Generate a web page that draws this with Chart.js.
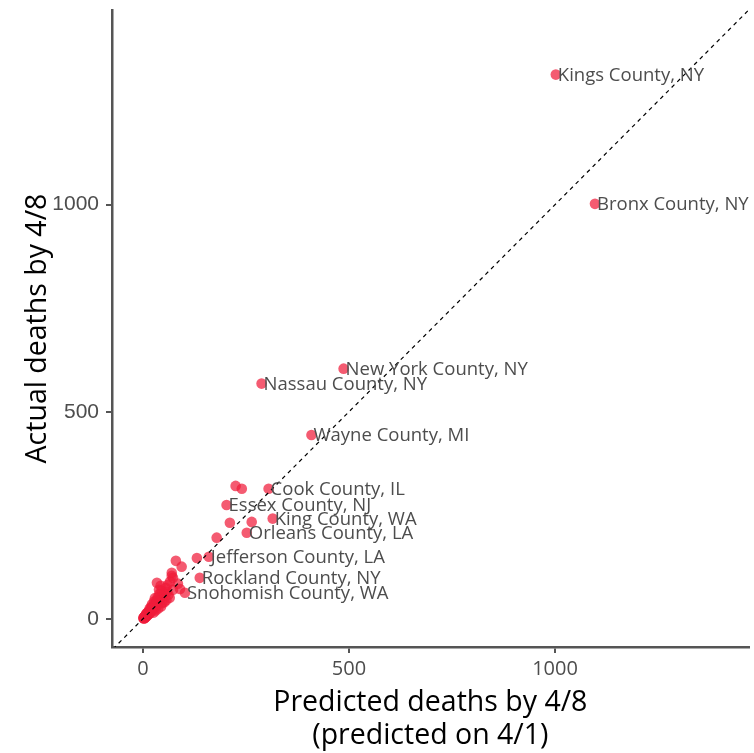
<!DOCTYPE html>
<html>
<head>
<meta charset="utf-8">
<script src="https://cdn.jsdelivr.net/npm/chart.js@4.4.0/dist/chart.umd.min.js"></script>
<style>
  body { margin: 0; background: #fff; }
  #wrap { width: 754px; height: 753px; }
</style>
</head>
<body>
<div id="wrap"><canvas id="myChart"></canvas></div>
<script>
// labelled counties
const counties = [
  "Kings County, NY", "Bronx County, NY", "New York County, NY", "Nassau County, NY",
  "Wayne County, MI", "Cook County, IL", "Essex County, NJ", "King County, WA",
  "Orleans County, LA", "Jefferson County, LA", "Rockland County, NY", "Snohomish County, WA",
];
const predLab = [1002, 1097, 487, 288, 409, 305, 203, 315, 252, 160, 138, 102];
const actLab  = [1314, 1002, 604, 568, 444, 314, 275, 242, 208, 150, 99, 63];

// the rest (unlabelled)
const predOther = [225, 240, 264, 211, 179, 131, 80, 94, 73, 34, 70, 70, 73, 65, 55, 50, 48, 45, 42, 40,
  38, 36, 35, 33, 30, 28, 27, 25, 24, 22, 20, 19, 18, 17, 16, 15, 14, 13, 12, 11,
  10, 9, 8, 8, 7, 6, 6, 5, 5, 4, 4, 3, 3, 2, 2, 1, 60, 52, 58, 62,
  47, 44, 37, 31, 26, 23, 21, 29, 39, 43, 57, 66, 85, 90];
const actOther  = [321, 314, 234, 232, 196, 147, 140, 126, 99, 87, 111, 104, 70, 51, 75, 62, 55, 68, 48, 60,
  40, 52, 33, 45, 38, 28, 42, 30, 22, 35, 18, 28, 20, 14, 24, 12, 18, 10, 16, 9,
  14, 7, 12, 5, 9, 4, 8, 6, 3, 5, 2, 4, 1, 3, 1, 2, 82, 40, 65, 58,
  38, 30, 25, 20, 15, 30, 25, 50, 70, 80, 45, 90, 85, 72];

const tickVals = [0, 500, 1000];
const diag = [-100, 1500];

const pointColor = "rgba(240, 28, 58, 0.72)";
const axisColor = "#555555";
const textColor = "#4d4d4d";

const labelPlugin = {
  id: "countyLabels",
  afterDatasetsDraw(chart) {
    const meta = chart.getDatasetMeta(1);
    const c = chart.ctx;
    c.save();
    c.font = "18.5px 'Open Sans'";
    c.fillStyle = textColor;
    c.textAlign = "left";
    c.textBaseline = "middle";
    meta.data.forEach(function (el, i) {
      c.fillText(counties[i], el.x + 2, el.y + 1);
    });
    c.restore();
  },
};

const data = {
  datasets: [
    {
      type: "line",
      data: diag.map(v => ({x: v, y: v})),
      borderColor: "#000",
      borderWidth: 1.2,
      borderDash: [4, 4],
      pointRadius: 0,
      order: 0,
    },
    {
      type: "scatter",
      data: predLab.map((v, i) => ({x: v, y: actLab[i]})),
      backgroundColor: pointColor,
      borderWidth: 0,
      pointRadius: 5.3,
      order: 2,
    },
    {
      type: "scatter",
      data: predOther.map((v, i) => ({x: v, y: actOther[i]})),
      backgroundColor: pointColor,
      borderWidth: 0,
      pointRadius: 5.3,
      order: 3,
    },
  ],
};

const config = {
  type: "scatter",
  data: data,
  plugins: [labelPlugin],
  options: {
    responsive: true,
    maintainAspectRatio: false,
    animation: false,
    layout: { padding: { top: 10, right: 4, left: 0, bottom: 0 } },
    plugins: { legend: { display: false }, tooltip: { enabled: false } },
    scales: {
      x: {
        type: "linear",
        min: -75,
        max: 1470,
        afterBuildTicks: (s) => { s.ticks = tickVals.map(v => ({value: v})); },
        afterFit: (s) => { s.height = 106; s.paddingLeft = 0; s.paddingRight = 0; },
        ticks: { font: { family: "Open Sans", size: 20 }, color: textColor, padding: 4, callback: (v) => String(v) },
        grid: { drawOnChartArea: false, drawTicks: true, tickLength: 6, color: axisColor, lineWidth: 2 },
        border: { display: true, color: axisColor, width: 2.5 },
        title: {
          display: true,
          text: ["Predicted deaths by 4/8", "(predicted on 4/1)"],
          font: { family: "Open Sans", size: 28.5, lineHeight: 1.16 },
          color: "#000",
          padding: { top: 0, bottom: 0.5 },
        },
      },
      y: {
        type: "linear",
        min: -68,
        max: 1470,
        afterBuildTicks: (s) => { s.ticks = tickVals.map(v => ({value: v})); },
        afterFit: (s) => { s.width = 112; s.paddingTop = 0; s.paddingBottom = 0; },
        ticks: { font: { family: "Liberation Sans", size: 21 }, color: textColor, padding: 7, callback: (v) => String(v) },
        grid: { drawOnChartArea: false, drawTicks: true, tickLength: 6, color: axisColor, lineWidth: 2 },
        border: { display: true, color: axisColor, width: 2.5 },
        title: {
          display: true,
          text: "Actual deaths by 4/8",
          font: { family: "Open Sans", size: 28.5, lineHeight: 1.16 },
          color: "#000",
          padding: { top: 21.5, bottom: 0 },
        },
      },
    },
  },
};

const ctx = document.getElementById("myChart");
const myChart = new Chart(ctx, config);
</script>
</body>
</html>
